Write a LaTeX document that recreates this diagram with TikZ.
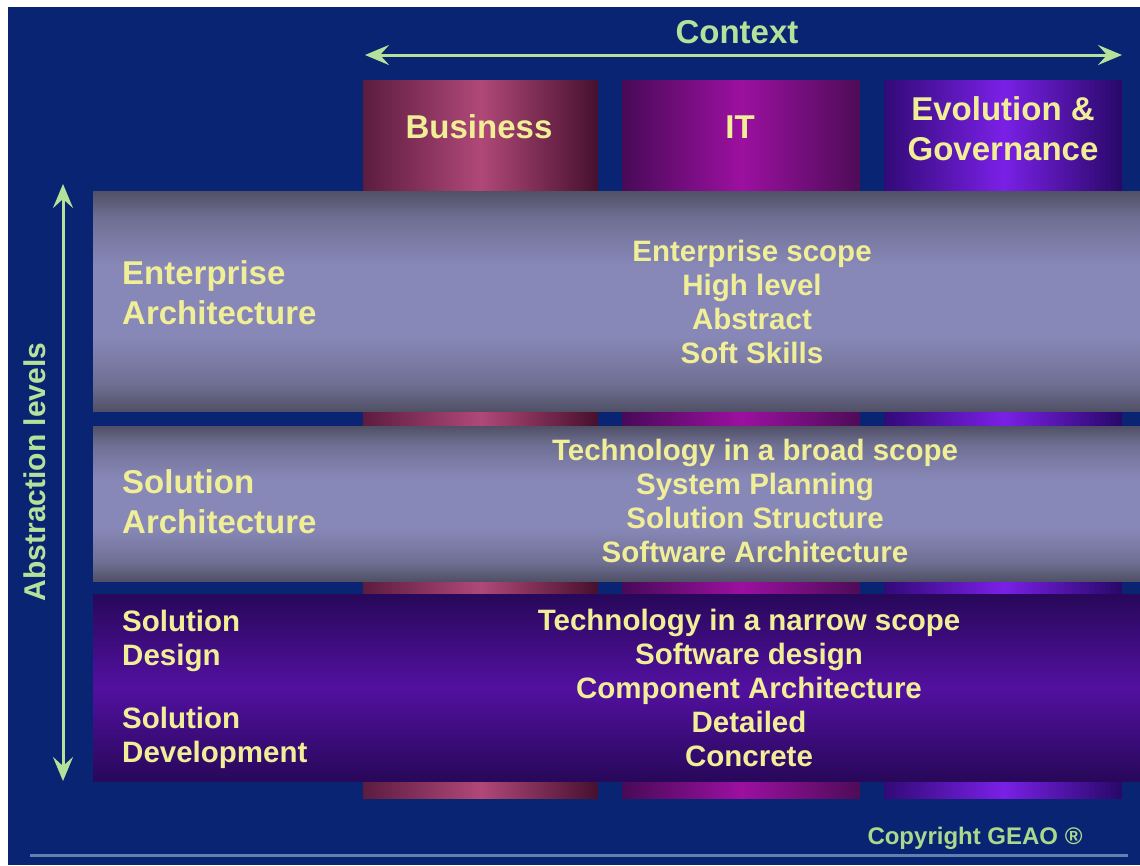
\documentclass[tikz,border=0pt]{standalone}
\usepackage{fontspec}
\setmainfont{Liberation Sans}
\usetikzlibrary{arrows.meta}

\definecolor{bg}{RGB}{10,36,116}
\definecolor{txt}{RGB}{240,238,150}
\definecolor{arr}{RGB}{180,226,154}
\definecolor{copy}{RGB}{170,216,140}
\definecolor{rule}{RGB}{96,128,176}
% column colours
\definecolor{busL}{RGB}{92,28,64}
\definecolor{busM}{RGB}{176,72,120}
\definecolor{busR}{RGB}{70,16,46}
\definecolor{itL}{RGB}{72,10,88}
\definecolor{itM}{RGB}{156,16,160}
\definecolor{itR}{RGB}{78,12,88}
\definecolor{evL}{RGB}{50,10,120}
\definecolor{evM}{RGB}{122,32,230}
\definecolor{evR}{RGB}{40,8,104}
% band colours
\definecolor{grayE}{RGB}{80,80,102}
\definecolor{grayM}{RGB}{136,136,184}
\definecolor{purE}{RGB}{40,8,90}
\definecolor{purM}{RGB}{82,16,160}

% grey bands: dark rims fading into a light middle
\pgfdeclareverticalshading{grayband}{100bp}{%
  color(0bp)=(grayE); color(25bp)=(grayE); color(31bp)=(grayE!45!grayM);
  color(42bp)=(grayM); color(58bp)=(grayM); color(69bp)=(grayE!45!grayM);
  color(75bp)=(grayE); color(100bp)=(grayE)}

\tikzset{
  lbl/.style={text=txt, font=\bfseries\fontsize{33}{40}\selectfont, inner sep=0pt},
  sidelbl/.style={lbl, anchor=west, align=left},
  smallside/.style={text=txt, font=\bfseries\fontsize{29.5}{34}\selectfont, inner sep=0pt, anchor=west, align=left},
  body/.style={text=txt, font=\bfseries\fontsize{29.5}{34}\selectfont, inner sep=0pt, align=center},
  axis/.style={draw=arr, line width=3pt, arrows={Stealth[length=24pt,width=20pt,inset=9pt]-Stealth[length=24pt,width=20pt,inset=9pt]}},
  column/.style n args={3}{left color=#1, right color=#3, middle color=#2},
  band/.style n args={2}{top color=#1, bottom color=#1, middle color=#2},
}

\begin{document}
\begin{tikzpicture}[x=1pt,y=-1pt]
\useasboundingbox (0,0) rectangle (1140,865);
\fill[white] (0,0) rectangle (1140,865);
\fill[bg] (8,7) rectangle (1140,865);

% context columns (run behind the bands)
\shade[column={busL}{busM}{busR}] (363,80) rectangle (598,798);
\shade[column={itL}{itM}{itR}] (622,80) rectangle (860,798);
\shade[column={evL}{evM}{evR}] (884,80) rectangle (1122,798);

% abstraction bands
\shade[shading=grayband] (93,191) rectangle (1140,411);
\shade[shading=grayband] (93,426) rectangle (1140,581);
\shade[band={purE}{purM}] (93,594) rectangle (1140,781);

% context axis
\coordinate (ctxL) at (365,55);
\coordinate (ctxR) at (1122,55);
\draw[axis] (ctxL) -- (ctxR);
\node[lbl, text=arr] (ctx) at (737,32) {Context};

% abstraction axis
\coordinate (absT) at (63,184);
\coordinate (absB) at (63,781);
\draw[axis] (absT) -- (absB);
\node[text=arr, font=\bfseries\fontsize{30}{36}\selectfont, inner sep=0pt, rotate=90] (abs) at (35,472) {Abstraction levels};

% column headings
\node[lbl] (bus) at (479,127) {Business};
\node[lbl] (it) at (740,127) {IT};
\node[lbl, align=center] (evo) at (1003,129) {Evolution \&\\Governance};

% band labels
\node[sidelbl] (ea) at (122,293) {Enterprise\\Architecture};
\node[sidelbl] (sa) at (122,502) {Solution\\Architecture};
\node[smallside] (sd) at (122,641) {Solution\\Design};
\node[smallside] (sdev) at (122,738) {Solution\\Development};

% band descriptions
\node[body] (eatxt) at (752,302) {Enterprise scope\\High level\\Abstract\\Soft Skills};
\node[body] (satxt) at (755,501) {Technology in a broad scope\\System Planning\\Solution Structure\\Software Architecture};
\node[body] (sdtxt) at (749,688) {Technology in a narrow scope\\Software design\\Component Architecture\\Detailed\\Concrete};

% footer
\node[text=copy, font=\bfseries\fontsize{24}{28}\selectfont, inner sep=0pt] (cr) at (975,838) {Copyright GEAO ®};
\draw[rule, line width=3pt] (30,855) -- (1128,855);
\end{tikzpicture}
\end{document}
